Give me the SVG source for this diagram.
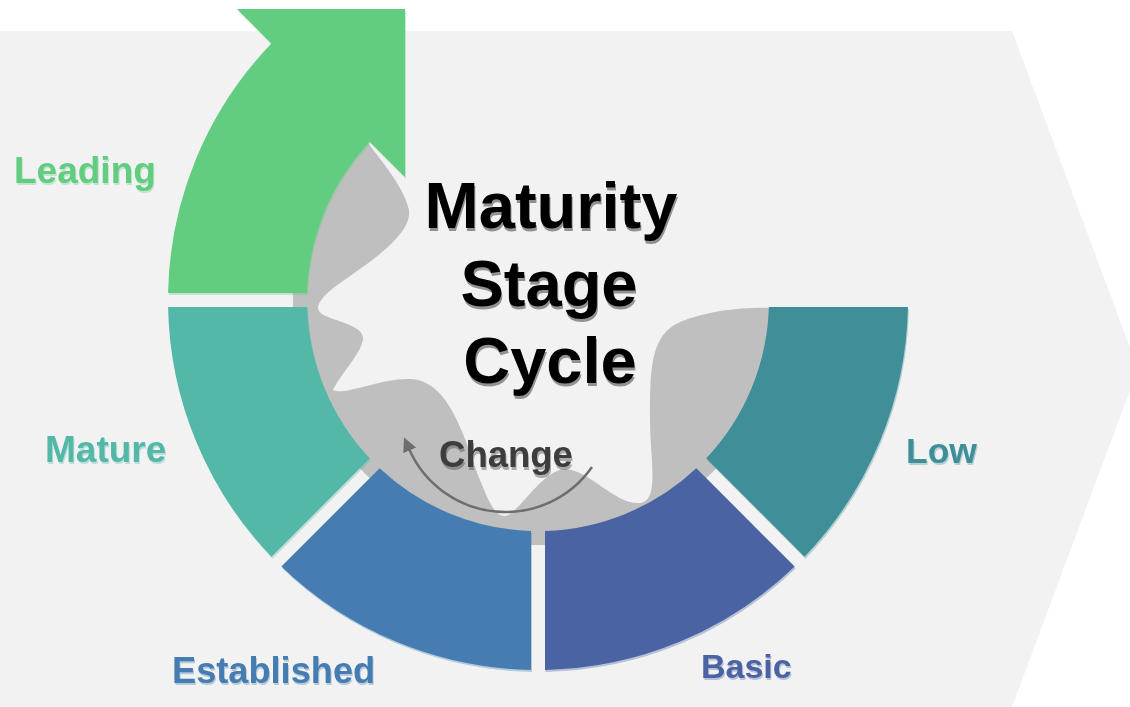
<svg xmlns="http://www.w3.org/2000/svg" width="1130" height="707" viewBox="0 0 1130 707">
  <style>
    .lbl { font-family: "Liberation Sans", Arial, sans-serif; font-weight: bold; }
    .title { font-family: "Liberation Sans", Arial, sans-serif; font-weight: bold; font-size: 65px; fill: #000000; text-anchor: middle; }
    .conn { fill: none; stroke: #6e6e6e; stroke-width: 2.5; }
  </style>
  <defs>
    <filter id="sh" x="-10%" y="-10%" width="125%" height="130%">
      <feOffset in="SourceGraphic" dx="0.5" dy="2" result="o"/>
      <feComponentTransfer in="o" result="t"><feFuncA type="linear" slope="0.35"/></feComponentTransfer>
      <feMerge><feMergeNode in="t"/><feMergeNode in="SourceGraphic"/></feMerge>
    </filter>
    <filter id="tsh" x="-10%" y="-10%" width="125%" height="130%">
      <feOffset in="SourceGraphic" dx="1" dy="2.5" result="o"/>
      <feComponentTransfer in="o" result="t"><feFuncA type="linear" slope="0.4"/></feComponentTransfer>
      <feMerge><feMergeNode in="t"/><feMergeNode in="SourceGraphic"/></feMerge>
    </filter>
    <marker id="ah" markerUnits="userSpaceOnUse" markerWidth="16" markerHeight="16" refX="1" refY="7" orient="auto">
      <path d="M0,0 L14,7 L0,14 Z" fill="#6e6e6e"/>
    </marker>
  </defs>

  <rect x="0" y="0" width="1130" height="707" fill="#ffffff"/>
  <polygon id="background" points="0,31 1012,31 1138,369 1012,707 0,707" fill="#f2f2f2"/>

  <path id="core" fill="#bfbfbf" d="M368,143 C385,165 405,190 409,210 C412,235 370,262 340,283 C322,296 312,308 322,314 C335,322 365,325 363,340 C360,355 340,375 333,390 C345,396 380,378 410,379 C450,380 465,440 480,480 C490,505 498,522 510,514 C525,503 545,470 565,469 C590,470 615,505 640,503 C660,500 650,460 650,420 C650,370 650,335 680,322 C710,310 745,307 771,308 L782.7,312 A245,245 0 1 1 364.8,126.8 Z"/>

  <g id="leading" filter="url(#sh)">
    <path d="M168.07,293 A370,370 0 0 1 271.42,43.42 L237,9 L405,9 L405,177 L369.73,141.73 A231,231 0 0 0 307.11,293 Z" fill="#62cc80"/>
    <text class="lbl" x="14" y="183" font-size="37" fill="#62cc80">Leading</text>
  </g>
  <g id="mature" filter="url(#sh)">
    <path d="M168.07,307 A370,370 0 0 0 271.47,556.63 L369.79,458.31 A231,231 0 0 1 307.11,307 Z" fill="#52b8a7"/>
    <text class="lbl" x="45" y="462" font-size="37" fill="#52b8a7">Mature</text>
  </g>
  <g id="established" filter="url(#sh)">
    <path d="M281.37,566.53 A370,370 0 0 0 531,669.93 L531,530.89 A231,231 0 0 1 379.69,468.21 Z" fill="#447db2"/>
    <text class="lbl" x="172" y="683" font-size="36.2" fill="#447db2">Established</text>
  </g>
  <g id="basic" filter="url(#sh)">
    <path d="M545,669.93 A370,370 0 0 0 794.63,566.53 L696.31,468.21 A231,231 0 0 1 545,530.89 Z" fill="#4a63a3"/>
    <text class="lbl" x="701" y="678" font-size="34" fill="#4a63a3">Basic</text>
  </g>
  <g id="low" filter="url(#sh)">
    <path d="M804.53,556.63 A370,370 0 0 0 907.93,307 L768.89,307 A231,231 0 0 1 706.21,458.31 Z" fill="#3f8f98"/>
    <text class="lbl" x="906" y="463" font-size="35.5" fill="#3f8f98">Low</text>
  </g>

  <g id="center" filter="url(#tsh)">
    <text class="title" x="551" y="228">Maturity</text>
    <text class="title" x="549" y="306">Stage</text>
    <text class="title" x="550" y="383">Cycle</text>
  </g>

  <g id="connectors">
    <path class="conn" d="M592,467 A105.4,105.4 0 0 1 409.3,449.5" marker-end="url(#ah)"/>
  </g>
  <g id="change" filter="url(#tsh)">
    <text class="lbl" x="506" y="467" font-size="36.5" fill="#3c3c3c" text-anchor="middle">Change</text>
  </g>
</svg>
